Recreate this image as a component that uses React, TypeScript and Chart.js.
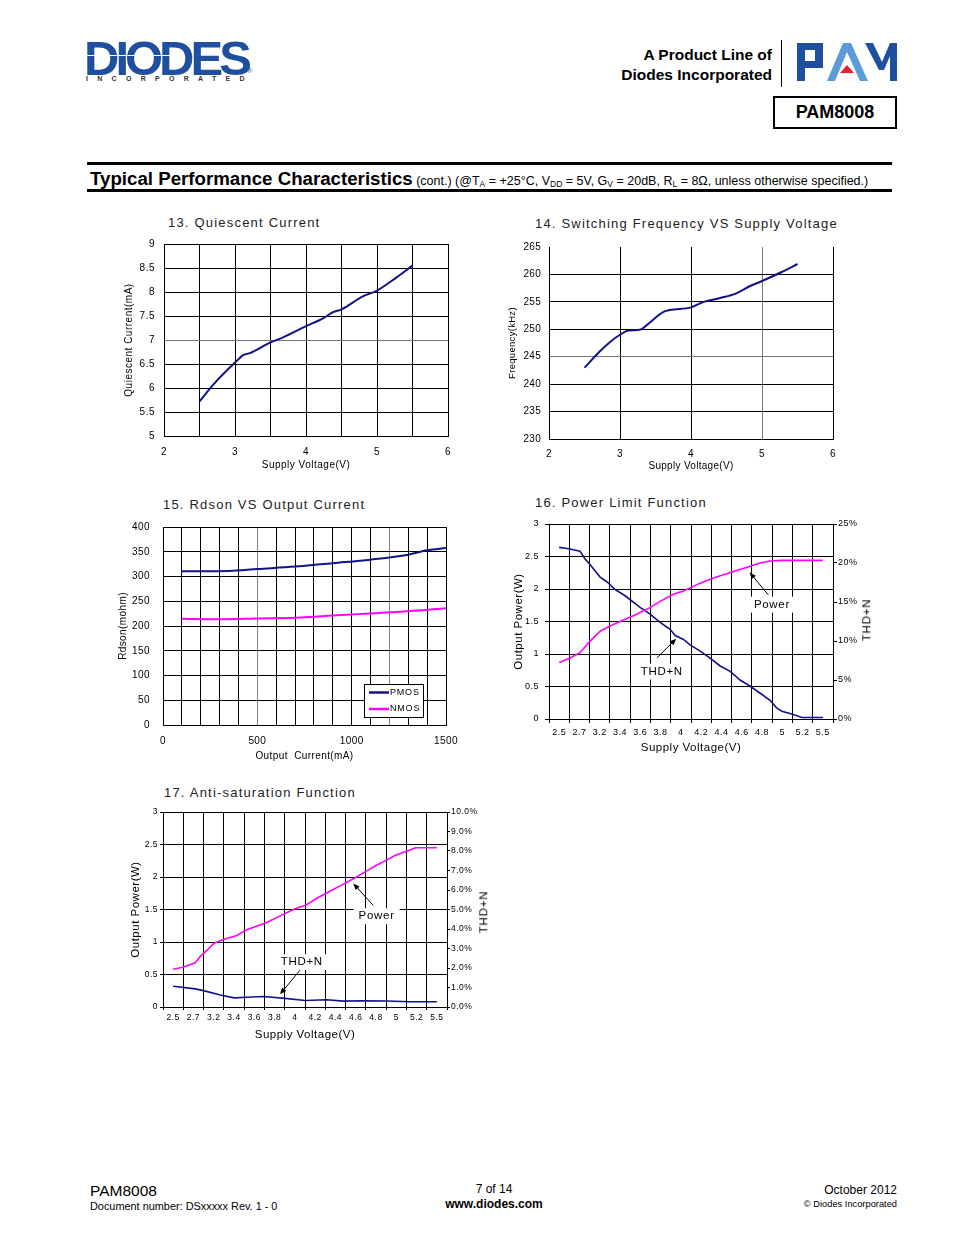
import React, { useEffect, useRef } from "react";
import { Chart, registerables } from "chart.js";

Chart.register(...registerables);

const FONT = "'Liberation Sans', Arial, Helvetica, sans-serif";
const NAVY = "#12128a";
const MAGENTA = "#ff00ff";

// ---------- 13. Quiescent Current ----------
const qcVoltage = [2.5, 2.7, 3.0, 3.12, 3.2, 3.5, 3.67, 4.0, 4.24, 4.38, 4.5, 4.8, 5.0, 5.28, 5.5];
const qcCurrent = [5.72, 6.08, 6.53, 6.69, 6.72, 6.95, 7.05, 7.29, 7.45, 7.58, 7.64, 7.91, 8.03, 8.31, 8.55];
const qcXGrid = [2, 2.5, 3, 3.5, 4, 4.5, 5, 5.5, 6];
const qcXLabels = [2, 3, 4, 5, 6];
const qcYTicks = [5, 5.5, 6, 6.5, 7, 7.5, 8, 8.5, 9];

// ---------- 14. Switching Frequency ----------
const fsVoltage = [2.5, 2.71, 2.86, 3.0, 3.12, 3.28, 3.38, 3.6, 3.7, 4.0, 4.18, 4.41, 4.63, 4.82, 5.0, 5.27, 5.5];
const fsFreq = [243.0, 245.9, 247.7, 249.0, 249.8, 249.9, 250.8, 253.1, 253.5, 254.0, 255.0, 255.7, 256.5, 257.8, 258.8, 260.4, 261.9];
const fsXTicks = [2, 3, 4, 5, 6];
const fsYTicks = [230, 235, 240, 245, 250, 255, 260, 265];

// ---------- 15. Rdson VS Output Current ----------
const rdSeries = ["PMOS", "NMOS"];
const rdPmosCurrent = [100, 200, 350, 500, 700, 900, 1100, 1300, 1400, 1500];
const rdPmos = [310.5, 310.5, 311, 315, 320, 327, 334, 344, 353, 357.5];
const rdNmosCurrent = [100, 300, 500, 700, 900, 1100, 1300, 1500];
const rdNmos = [214.5, 213.5, 215, 216.8, 221, 225.5, 230, 236];
const rdXGrid = [0, 100, 200, 300, 400, 500, 600, 700, 800, 900, 1000, 1100, 1200, 1300, 1400, 1500];
const rdXLabels = [0, 500, 1000, 1500];
const rdYTicks = [0, 50, 100, 150, 200, 250, 300, 350, 400];

// ---------- 16. Power Limit Function ----------
const plfCategories = ["2.5", "2.7", "3.2", "3.4", "3.6", "3.8", "4", "4.2", "4.4", "4.6", "4.8", "5", "5.2", "5.5"];
const plfPowerPos = [0, 0.54, 1.03, 1.28, 1.5, 2.02, 2.51, 3.0, 3.66, 4.45, 4.98, 5.63, 6.13, 6.95, 7.6, 8.6, 9.42, 9.91, 10.4, 10.95, 13];
const plfPower = [0.87, 0.94, 1.02, 1.11, 1.19, 1.35, 1.43, 1.5, 1.59, 1.71, 1.81, 1.92, 1.97, 2.09, 2.17, 2.27, 2.35, 2.4, 2.43, 2.44, 2.44];
const plfThdPos = [0, 0.54, 1.03, 1.28, 1.52, 2.02, 2.35, 2.76, 3.25, 3.99, 4.45, 4.98, 5.47, 5.72, 6.13, 6.46, 6.95, 7.44, 7.94, 8.43, 8.92, 9.42, 9.91, 10.4, 10.73, 10.98, 11.47, 11.97, 13];
const plfThd = [22.0, 21.8, 21.5, 20.5, 19.8, 18.2, 17.6, 16.6, 15.8, 14.3, 13.5, 12.4, 11.5, 10.7, 10.2, 9.5, 8.7, 7.8, 6.8, 6.1, 5.0, 4.2, 3.3, 2.4, 1.4, 1.0, 0.64, 0.2, 0.2];
const plfPowerTicks = [0, 0.5, 1, 1.5, 2, 2.5, 3];
const plfThdTicks = [0, 5, 10, 15, 20, 25];
const plfNotes = [
  { text: "Power", x: 10.49, y: 1.76 },
  { text: "THD+N", x: 5.06, y: 0.73 },
];
const plfArrows = [
  { x1: 10.31, y1: 1.91, x2: 9.39, y2: 2.255 },
  { x1: 4.82, y1: 0.94, x2: 5.77, y2: 1.235 },
];

// ---------- 17. Anti-saturation Function ----------
const atsCategories = ["2.5", "2.7", "3.2", "3.4", "3.6", "3.8", "4", "4.2", "4.4", "4.6", "4.8", "5", "5.2", "5.5"];
const atsPowerPos = [0, 0.52, 1.09, 1.34, 1.66, 2.02, 2.48, 3.14, 3.63, 4.53, 4.94, 5.52, 6.01, 6.5, 7.07, 7.73, 8.39, 9.04, 9.53, 10.02, 10.52, 10.93, 11.55, 11.95, 13];
const atsPower = [0.58, 0.615, 0.68, 0.78, 0.87, 0.98, 1.04, 1.1, 1.19, 1.29, 1.35, 1.44, 1.51, 1.56, 1.67, 1.78, 1.89, 2.0, 2.09, 2.18, 2.26, 2.33, 2.4, 2.45, 2.45];
const atsThdPos = [0, 1.09, 1.5, 2.32, 3.0, 3.63, 4.45, 5.52, 6.5, 7.57, 8.39, 9.37, 10.52, 11.66, 13];
const atsThd = [1.06, 0.93, 0.84, 0.62, 0.47, 0.5, 0.54, 0.44, 0.33, 0.37, 0.3, 0.32, 0.31, 0.27, 0.27];
const atsPowerTicks = [0, 0.5, 1, 1.5, 2, 2.5, 3];
const atsThdTicks = [0, 1, 2, 3, 4, 5, 6, 7, 8, 9, 10];
const atsNotes = [
  { text: "Power", x: 10.03, y: 1.395 },
  { text: "THD+N", x: 6.34, y: 0.69 },
];
const atsArrows = [
  { x1: 9.86, y1: 1.565, x2: 8.88, y2: 1.9 },
  { x1: 6.25, y1: 0.565, x2: 5.27, y2: 0.195 },
];

// ---------- helpers ----------
const pts = (xs: number[], ys: number[]) => xs.map((x, i) => ({ x, y: ys[i] }));
const setTicks = (values: number[]) => (scale: any) => {
  scale.ticks = values.map((v) => ({ value: v }));
};
const fit = (prop: "width" | "height", size: number) => (scale: any) => {
  scale[prop] = size;
  scale.paddingTop = 0;
  scale.paddingBottom = 0;
  scale.paddingLeft = 0;
  scale.paddingRight = 0;
};
const catGrid = (n: number) => Array.from({ length: 2 * n + 1 }, (_, i) => i / 2 - 0.5);
const font = (size: number) => ({ family: FONT, size });
const isInt = (v: any) => typeof v === "number" && Number.isInteger(v);

const spacing = (px: string) => ({
  id: "spacing",
  beforeDraw(chart: any) {
    chart.ctx.letterSpacing = px;
  },
});

function notesPlugin(notes: any[], arrows: any[], size: number) {
  return {
    id: "notes",
    afterDraw(chart: any) {
      const ctx = chart.ctx;
      const xs = chart.scales.x;
      const ys = chart.scales.y;
      ctx.save();
      ctx.font = `${size}px ${FONT}`;
      ctx.letterSpacing = "0.7px";
      for (const n of notes) {
        const px = xs.getPixelForValue(n.x);
        const py = ys.getPixelForValue(n.y);
        const w = ctx.measureText(n.text).width + 10;
        const h = 16;
        ctx.fillStyle = "#fff";
        ctx.fillRect(px - w / 2, py - h / 2, w, h);
        ctx.fillStyle = "#000";
        ctx.textAlign = "center";
        ctx.textBaseline = "middle";
        ctx.fillText(n.text, px, py);
      }
      for (const a of arrows) {
        const x1 = xs.getPixelForValue(a.x1);
        const y1 = ys.getPixelForValue(a.y1);
        const x2 = xs.getPixelForValue(a.x2);
        const y2 = ys.getPixelForValue(a.y2);
        const ang = Math.atan2(y2 - y1, x2 - x1);
        ctx.strokeStyle = "#000";
        ctx.lineWidth = 1;
        ctx.beginPath();
        ctx.moveTo(x1, y1);
        ctx.lineTo(x2 - 4 * Math.cos(ang), y2 - 4 * Math.sin(ang));
        ctx.stroke();
        const len = 7;
        ctx.fillStyle = "#000";
        ctx.beginPath();
        ctx.moveTo(x2, y2);
        ctx.lineTo(x2 - len * Math.cos(ang - 0.4), y2 - len * Math.sin(ang - 0.4));
        ctx.lineTo(x2 - len * Math.cos(ang + 0.4), y2 - len * Math.sin(ang + 0.4));
        ctx.closePath();
        ctx.fill();
      }
      ctx.restore();
    },
  };
}

const legendBox = {
  id: "legendBox",
  afterDraw(chart: any) {
    const ctx = chart.ctx;
    const a = chart.chartArea;
    const w = 59;
    const h = 33;
    const x0 = Math.round(a.right - 23 - w);
    const y0 = Math.round(a.bottom - 8 - h);
    ctx.save();
    ctx.fillStyle = "#fff";
    ctx.fillRect(x0, y0, w, h);
    ctx.strokeStyle = "#000";
    ctx.lineWidth = 1;
    ctx.strokeRect(x0 + 0.5, y0 + 0.5, w, h);
    ctx.font = `9px ${FONT}`;
    ctx.letterSpacing = "0.8px";
    ctx.textBaseline = "middle";
    chart.data.datasets.forEach((ds: any, i: number) => {
      const yy = y0 + 8.5 + i * 16.5;
      ctx.strokeStyle = ds.borderColor;
      ctx.lineWidth = 2.5;
      ctx.beginPath();
      ctx.moveTo(x0 + 5, yy);
      ctx.lineTo(x0 + 25, yy);
      ctx.stroke();
      ctx.fillStyle = "#000";
      ctx.fillText(ds.label, x0 + 26, yy);
    });
    ctx.restore();
  },
};

const baseOptions = (padding: any) => ({
  animation: false,
  responsive: false,
  devicePixelRatio: 1,
  events: [],
  layout: { padding },
  plugins: { legend: { display: false }, tooltip: { enabled: false }, title: { display: false } },
});

const lineDs = (data: any[], color: string, width: number, extra: any = {}) => ({
  data,
  borderColor: color,
  backgroundColor: color,
  borderWidth: width,
  pointRadius: 0,
  fill: false,
  cubicInterpolationMode: "monotone",
  ...extra,
});

// ---------- chart configs ----------
const build13 = () => ({
  type: "line",
  data: { datasets: [lineDs(pts(qcVoltage, qcCurrent), NAVY, 2)] },
  options: {
    ...baseOptions({ top: 8, right: 14, left: 0, bottom: 0 }),
    scales: {
      x: {
        type: "linear", min: 2, max: 6,
        afterBuildTicks: setTicks(qcXGrid),
        afterFit: fit("height", 38),
        ticks: { autoSkip: false, maxRotation: 0, minRotation: 0, padding: 10, color: "#000", font: font(10),
          callback: (v: number) => (qcXLabels.includes(v) ? String(v) : "") },
        grid: { color: "#000", drawTicks: false },
        border: { color: "#000" },
        title: { display: true, text: "Supply Voltage(V)", color: "#000", font: font(10), padding: { top: 0, bottom: 3 } },
      },
      y: {
        type: "linear", min: 5, max: 9,
        afterBuildTicks: setTicks(qcYTicks),
        afterFit: fit("width", 54),
        ticks: { padding: 9, color: "#000", font: font(10), callback: (v: number) => String(v) },
        grid: { color: (c: any) => (c.tick && c.tick.value === 7 ? "#777" : "#000"), drawTicks: false },
        border: { color: "#000" },
        title: { display: true, text: "Quiescent Current(mA)", color: "#000", font: font(10), padding: { top: 13, bottom: 0 } },
      },
    },
  },
  plugins: [spacing("0.5px")],
});

const build14 = () => ({
  type: "line",
  data: { datasets: [lineDs(pts(fsVoltage, fsFreq), NAVY, 2)] },
  options: {
    ...baseOptions({ top: 8, right: 14, left: 0, bottom: 0 }),
    scales: {
      x: {
        type: "linear", min: 2, max: 6,
        afterBuildTicks: setTicks(fsXTicks),
        afterFit: fit("height", 36),
        ticks: { autoSkip: false, maxRotation: 0, minRotation: 0, padding: 9, color: "#000", font: font(10) },
        grid: { color: (c: any) => (c.tick && c.tick.value === 5 ? "#777" : "#000"), drawTicks: false },
        border: { color: "#000" },
        title: { display: true, text: "Supply Voltage(V)", color: "#000", font: font(10), padding: { top: 0, bottom: 3 } },
      },
      y: {
        type: "linear", min: 230, max: 265,
        afterBuildTicks: setTicks(fsYTicks),
        afterFit: fit("width", 44),
        ticks: { padding: 8, color: "#000", font: font(10) },
        grid: {
          color: (c: any) => (c.tick && c.tick.value === 265 ? "rgba(0,0,0,0)" : c.tick && c.tick.value === 245 ? "#777" : "#000"),
          drawTicks: false,
        },
        border: { color: "#000" },
        title: { display: true, text: "Frequency(kHz)", color: "#000", font: font(9.5), padding: { top: 2, bottom: 0 } },
      },
    },
  },
  plugins: [spacing("0.3px")],
});

const build15 = () => ({
  type: "line",
  data: {
    datasets: [
      lineDs(pts(rdPmosCurrent, rdPmos), NAVY, 2, { label: rdSeries[0] }),
      lineDs(pts(rdNmosCurrent, rdNmos), MAGENTA, 2, { label: rdSeries[1] }),
    ],
  },
  options: {
    ...baseOptions({ top: 10, right: 16, left: 0, bottom: 0 }),
    scales: {
      x: {
        type: "linear", min: 0, max: 1500,
        afterBuildTicks: setTicks(rdXGrid),
        afterFit: fit("height", 38),
        ticks: { autoSkip: false, maxRotation: 0, minRotation: 0, padding: 10, color: "#000", font: font(10),
          callback: (v: number) => (rdXLabels.includes(v) ? String(v) : "") },
        grid: { color: (c: any) => (c.tick && (c.tick.value === 500 || c.tick.value === 1200) ? "#808080" : "#000"), drawTicks: false },
        border: { color: "#000" },
        title: { display: true, text: "Output  Current(mA)", color: "#000", font: font(10), padding: { top: 0, bottom: 1 } },
      },
      y: {
        type: "linear", min: 0, max: 400,
        afterBuildTicks: setTicks(rdYTicks),
        afterFit: fit("width", 50),
        ticks: { padding: 13, color: "#000", font: font(10) },
        grid: { color: "#000", drawTicks: false },
        border: { color: "#000" },
        title: { display: true, text: "Rdson(mohm)", color: "#000", font: font(10), padding: { top: 4, bottom: 0 } },
      },
    },
  },
  plugins: [spacing("0.4px"), legendBox],
});

function buildDual(opts: {
  cats: string[]; powerPos: number[]; power: number[]; thdPos: number[]; thd: number[];
  powerTicks: number[]; thdTicks: number[]; thdMax: number; thdFmt: (v: number) => string;
  notes: any[]; arrows: any[]; tickFont: number; yPad: number; y1Pad: number; xPad: number; tickLen: number;
  leftTitlePad: number; bottomTitlePad: number; leftW: number; rightW: number;
}) {
  const n = opts.cats.length;
  const gridColor = (c: any) => (c.tick && isInt(c.tick.value) ? "rgba(0,0,0,0)" : "#000");
  return {
    type: "line",
    data: {
      datasets: [
        lineDs(pts(opts.powerPos, opts.power), MAGENTA, 1.6, { label: "Power", yAxisID: "y", cubicInterpolationMode: "default", tension: 0 }),
        lineDs(pts(opts.thdPos, opts.thd), NAVY, 1.6, { label: "THD+N", yAxisID: "y1", cubicInterpolationMode: "default", tension: 0 }),
      ],
    },
    options: {
      ...baseOptions({ top: 8, right: 0, left: 0, bottom: 0 }),
      scales: {
        x: {
          type: "linear", min: -0.5, max: n - 0.5,
          afterBuildTicks: setTicks(catGrid(n)),
          afterFit: fit("height", 40),
          ticks: { autoSkip: false, maxRotation: 0, minRotation: 0, padding: opts.xPad, color: "#000", font: font(opts.tickFont),
            callback: (v: number) => (isInt(v) && v >= 0 && v < n ? opts.cats[v] : "") },
          grid: { color: gridColor, tickColor: gridColor, drawTicks: true, tickLength: opts.tickLen },
          border: { color: "#000" },
          title: { display: true, text: "Supply Voltage(V)", color: "#000", font: font(11.5), padding: { top: 0, bottom: opts.bottomTitlePad } },
        },
        y: {
          type: "linear", position: "left", min: 0, max: 3,
          afterBuildTicks: setTicks(opts.powerTicks),
          afterFit: fit("width", opts.leftW),
          ticks: { padding: opts.yPad, color: "#000", font: font(opts.tickFont), callback: (v: number) => String(v) },
          grid: { color: "#000", tickColor: "#000", drawTicks: true, tickLength: opts.tickLen },
          border: { color: "#000" },
          title: { display: true, text: "Output Power(W)", color: "#000", font: font(11.5), padding: { top: opts.leftTitlePad, bottom: 0 } },
        },
        y1: {
          type: "linear", position: "right", min: 0, max: opts.thdMax,
          afterBuildTicks: setTicks(opts.thdTicks),
          afterFit: fit("width", opts.rightW),
          ticks: { padding: opts.y1Pad, color: "#000", font: font(opts.tickFont), callback: opts.thdFmt },
          grid: { drawOnChartArea: false, color: "#000", tickColor: "#000", drawTicks: true, tickLength: opts.tickLen },
          border: { color: "#000" },
        },
      },
    },
    plugins: [spacing("0.5px"), notesPlugin(opts.notes, opts.arrows, 11.5)],
  };
}

const build16 = () =>
  buildDual({
    cats: plfCategories, powerPos: plfPowerPos, power: plfPower, thdPos: plfThdPos, thd: plfThd,
    powerTicks: plfPowerTicks, thdTicks: plfThdTicks, thdMax: 25, thdFmt: (v) => `${v}%`,
    notes: plfNotes, arrows: plfArrows, tickFont: 9, yPad: 6, y1Pad: 1, xPad: 4, tickLen: 4,
    leftTitlePad: 3, bottomTitlePad: 4, leftW: 40, rightW: 42,
  });

const build17 = () =>
  buildDual({
    cats: atsCategories, powerPos: atsPowerPos, power: atsPower, thdPos: atsThdPos, thd: atsThd,
    powerTicks: atsPowerTicks, thdTicks: atsThdTicks, thdMax: 10, thdFmt: (v) => `${v.toFixed(1)}%`,
    notes: atsNotes, arrows: atsArrows, tickFont: 8.5, yPad: 2, y1Pad: 1, xPad: 3, tickLen: 3,
    leftTitlePad: 6, bottomTitlePad: 5, leftW: 40, rightW: 45,
  });

function ChartBox({ left, top, width, height, build }: any) {
  const ref = useRef<HTMLCanvasElement>(null);
  useEffect(() => {
    const chart = new Chart(ref.current as HTMLCanvasElement, build());
    return () => chart.destroy();
  }, []);
  return (
    <canvas
      ref={ref}
      width={width}
      height={height}
      style={{ position: "absolute", left, top, width, height }}
    />
  );
}

const abs = (style: any) => ({ position: "absolute", whiteSpace: "nowrap", lineHeight: 1, ...style });

function Txt({ style, children }: any) {
  return <div style={abs(style)}>{children}</div>;
}

const chartTitle = { fontSize: 13, letterSpacing: "1.2px", color: "#222" };
const sub = { fontSize: 8.5, verticalAlign: "-2px" };

export default function App() {
  return (
    <div
      style={{
        position: "absolute", left: 0, top: 0, width: 954, height: 1235,
        background: "#fff", overflow: "hidden", fontFamily: FONT, color: "#000",
      }}
    >
      {/* DIODES logo */}
      <Txt style={{ left: 84, top: 33.5, fontSize: 49, fontWeight: 700, letterSpacing: "-4px", color: "#1f4f9f" }}>DIODES</Txt>
      <div style={{ position: "absolute", left: 86, top: 54.5, width: 96, height: 1.5, background: "#fff" }} />
      <Txt style={{ left: 86, top: 75, fontSize: 7, fontWeight: 700, letterSpacing: "9.3px", color: "#333" }}>INCORPORATED</Txt>
      <Txt style={{ left: 247, top: 67, fontSize: 7, color: "#1f4f9f" }}>®</Txt>

      {/* Product line */}
      <Txt style={{ right: 182, top: 47, fontSize: 15.5, fontWeight: 700 }}>A Product Line of</Txt>
      <Txt style={{ right: 182, top: 67, fontSize: 15.5, fontWeight: 700 }}>Diodes Incorporated</Txt>
      <div style={{ position: "absolute", left: 781, top: 40, width: 1, height: 47, background: "#000" }} />

      {/* PAM logo */}
      <svg style={{ position: "absolute", left: 797, top: 43 }} width={101} height={40} viewBox="0 0 101 40">
        <rect x={0} y={0} width={8} height={38} fill="#1f4f9f" />
        <rect x={0} y={0} width={26} height={7} fill="#1f4f9f" />
        <rect x={18} y={0} width={8} height={25} fill="#1f4f9f" />
        <rect x={0} y={18} width={26} height={7} fill="#1f4f9f" />
        <polygon points="30,38 46,0 54,0 71,38 63,38 50,9 38,38" fill="#5b9bd8" />
        <polygon points="43,30 50,22 57,30" fill="#e0202a" />
        <polygon points="68,0 76,0 85,19 93,0 100,0 100,38 93,38 93,13 87,27 82,27" fill="#1f4f9f" />
      </svg>

      {/* PAM8008 box */}
      <div
        style={{
          position: "absolute", left: 773, top: 96, width: 124, height: 33, boxSizing: "border-box",
          border: "2px solid #000", fontSize: 18, fontWeight: 700, textAlign: "center", lineHeight: "29px",
        }}
      >
        PAM8008
      </div>

      {/* Section title bar */}
      <div style={{ position: "absolute", left: 87, top: 162, width: 805, height: 3, background: "#000" }} />
      <div style={{ position: "absolute", left: 90, top: 169, whiteSpace: "nowrap", lineHeight: "19px" }}>
        <span style={{ fontSize: 18.7, fontWeight: 700 }}>Typical Performance Characteristics</span>
        <span style={{ fontSize: 12.5 }}>
          {" "}(cont.) (@T<span style={sub}>A</span> = +25°C, V<span style={sub}>DD</span> = 5V, G<span style={sub}>V</span> = 20dB, R<span style={sub}>L</span> = 8Ω, unless otherwise specified.)
        </span>
      </div>
      <div style={{ position: "absolute", left: 87, top: 189, width: 805, height: 3, background: "#000" }} />

      {/* Chart titles */}
      <Txt style={{ left: 168, top: 215.5, ...chartTitle }}>13. Quiescent Current</Txt>
      <Txt style={{ left: 535, top: 216.5, ...chartTitle }}>14. Switching Frequency VS Supply Voltage</Txt>
      <Txt style={{ left: 163, top: 497.5, ...chartTitle }}>15. Rdson VS Output Current</Txt>
      <Txt style={{ left: 535, top: 495.5, ...chartTitle }}>16. Power Limit Function</Txt>
      <Txt style={{ left: 164, top: 785.5, ...chartTitle }}>17. Anti-saturation Function</Txt>

      {/* Charts */}
      <ChartBox left={110} top={236} width={352} height={238} build={build13} />
      <ChartBox left={505} top={239} width={342} height={236} build={build14} />
      <ChartBox left={113} top={517} width={349} height={246} build={build15} />
      <ChartBox left={509} top={516} width={366} height={243} build={build16} />
      <ChartBox left={123} top={804} width={369} height={243} build={build17} />

      {/* Right axis titles */}
      <Txt style={{ left: 866.7, top: 620, fontSize: 11.5, letterSpacing: "0.8px", transform: "translate(-50%, -50%) rotate(-90deg)" }}>THD+N</Txt>
      <Txt style={{ left: 484, top: 911.7, fontSize: 11.5, letterSpacing: "0.8px", transform: "translate(-50%, -50%) rotate(-90deg)" }}>THD+N</Txt>

      {/* Footer */}
      <Txt style={{ left: 90, top: 1182.5, fontSize: 15.5 }}>PAM8008</Txt>
      <Txt style={{ left: 90, top: 1200.5, fontSize: 10.9 }}>Document number: DSxxxxx Rev. 1 - 0</Txt>
      <Txt style={{ left: 394, width: 200, textAlign: "center", top: 1183, fontSize: 12 }}>7 of 14</Txt>
      <Txt style={{ left: 394, width: 200, textAlign: "center", top: 1198, fontSize: 12, fontWeight: 700 }}>www.diodes.com</Txt>
      <Txt style={{ right: 57, top: 1184, fontSize: 12 }}>October 2012</Txt>
      <Txt style={{ right: 57, top: 1199.5, fontSize: 9.3 }}>© Diodes Incorporated</Txt>
    </div>
  );
}
